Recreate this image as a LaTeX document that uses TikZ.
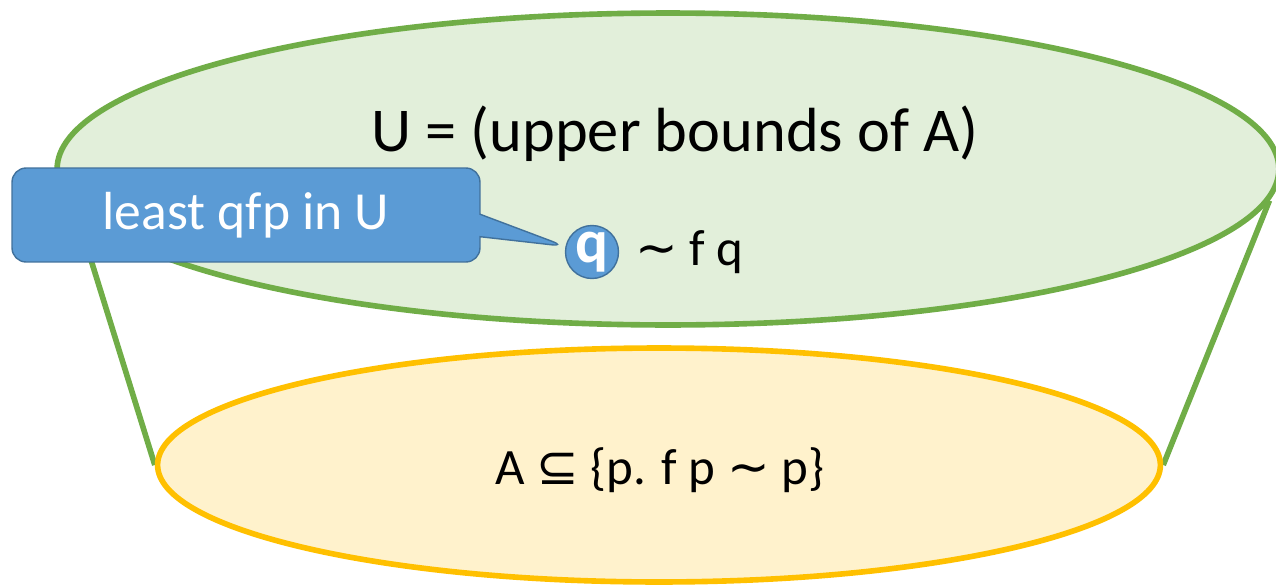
\documentclass[tikz,border=0pt]{standalone}
\usepackage{fontspec}
\setmainfont{Carlito}
\newfontfamily\symfont{DejaVu Sans}
\usepackage{tikz}
\usetikzlibrary{positioning, shapes.geometric, shapes.callouts, backgrounds}
\definecolor{setgreen}{HTML}{70AD47}
\definecolor{setgreenfill}{HTML}{E2EFDA}
\definecolor{setyellow}{HTML}{FFC000}
\definecolor{setyellowfill}{HTML}{FFF2CC}
\definecolor{noteblue}{HTML}{5B9BD5}
\definecolor{noteedge}{HTML}{41719C}

\begin{document}
\begin{tikzpicture}[
        x=0.02cm, y=-0.02cm,
        every node/.style={font=\fontsize{29}{34}\selectfont},
        setshape/.style={ellipse, line width=3.2pt, inner sep=0pt},
        rim/.style={setgreen, line width=3.2pt},
        note/.style={rectangle callout, fill=noteblue, draw=noteedge, line width=0.8pt, rounded corners=8pt, text=white, minimum width=9.36cm, minimum height=1.88cm, callout pointer width=0.45cm, font=\fontsize{30.5}{36}\selectfont},
        point/.style={circle, fill=noteblue, draw=noteedge, line width=0.8pt, minimum size=1.06cm, inner sep=0pt, text=white, font=\fontsize{35}{40}\selectfont\bfseries}
    ]
        \useasboundingbox (0,0) rectangle (1276,585);
        \node[setshape, draw=setgreen, fill=setgreenfill, minimum width=24.44cm, minimum height=6.24cm] (upper) at (668,169) {};
        \node[setshape, draw=setyellow, fill=setyellowfill, minimum width=20.06cm, minimum height=4.68cm] (lower) at (659,465) {};
        \node[font=\fontsize{35.5}{42}\selectfont] (utext) at (675,134) {U = (upper bounds of A)};
        \node (atext) at (660,470) {A {\symfont ⊆} \{p. f p {\symfont ∼} p\}};

        \node[point] (q) at (592,252) {q};
        \node[right=0.32cm of q, inner sep=0pt] (qlabel) {{\symfont ∼} f q};
        \node[note, callout absolute pointer={(q.168)}] (callout) at (246,215) {least qfp in U};

        % cone sides
        \begin{scope}[on background layer]
            \draw[rim] (upper.184) -- (lower.west);
            \draw[rim] (upper.-3) -- (lower.east);
        \end{scope}
    \end{tikzpicture}
\end{document}
